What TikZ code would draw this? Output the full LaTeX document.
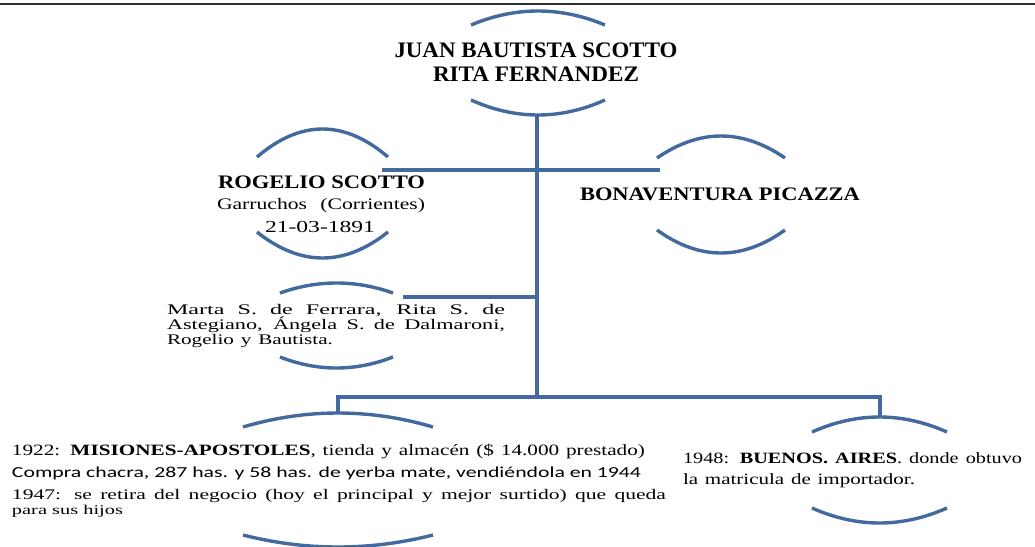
\documentclass[tikz,border=0pt]{standalone}
\usepackage{fontspec}
\setmainfont{Liberation Serif}
\newfontfamily\calibrifont{Carlito}
\usepackage{graphicx}
\definecolor{arcblue}{RGB}{66,106,158}
\definecolor{rulegray}{RGB}{45,45,45}
% #1 target width, #2 target cap height, #3 spread factor, #4 text
\newcommand\fitt[4]{%
  \setbox0\hbox{#4}\setbox2\hbox{H}%
  \setbox4\hbox{\makebox[#3\wd0][s]{#4}}%
  \pgfmathsetmacro\myscx{#1/\the\wd4}%
  \pgfmathsetmacro\myscy{#2/\the\ht2}%
  \scalebox{\myscx}[\myscy]{\copy4}}
% #1 x1, #2 x2, #3 y of ends, #4 y of apex
\newcommand\brokearc[4]{%
  \draw[arcline] (#1,#3) .. controls ({#1+(#2-#1)/3},{#3+4/3*(#4-#3)}) and ({#2-(#2-#1)/3},{#3+4/3*(#4-#3)}) .. (#2,#3);}
\begin{document}
\begin{tikzpicture}[x=1pt,y=-1pt,
  arcline/.style={draw=arcblue,line width=3.4pt},
  conn/.style={draw=arcblue,line width=3.2pt},
  lbl/.style={inner sep=0pt,outer sep=0pt,anchor=base},
  lblw/.style={inner sep=0pt,outer sep=0pt,anchor=base west}]
\useasboundingbox (0,0) rectangle (1035,546);
\draw[draw=rulegray,line width=1.8pt] (0,4) -- (1035,4);

% circle arcs
\brokearc{471}{605}{25}{11}
\brokearc{471}{605}{100}{115}
\brokearc{257}{388}{157}{129}
\brokearc{257}{388}{232}{258}
\brokearc{280}{393}{293}{283}
\brokearc{280}{393}{357}{368}
\brokearc{657}{785}{158}{136}
\brokearc{657}{785}{230}{253}
\brokearc{243}{433}{427}{413}
\brokearc{243}{433}{535}{547}
\brokearc{812}{947}{432}{417}
\brokearc{812}{947}{508}{523}

% texts
\node[lbl] (jb1) at (536,57) {\fitt{283}{14.5}{1}{\bfseries JUAN BAUTISTA SCOTTO}};
\node[lbl] (jb2) at (536,81) {\fitt{206}{14.5}{1}{\bfseries RITA FERNANDEZ}};

\node[lbl] (rog1) at (321.5,188) {\fitt{207}{12.5}{1}{\bfseries ROGELIO SCOTTO}};
\node[lbl] (rog2) at (321,209) {\fitt{208}{10.5}{1.04}{Garruchos (Corrientes)}};
\node[lbl] (rog3) at (320,232) {\fitt{110}{11}{1}{21-03-1891}};

\node[lbl] (bon) at (720,200) {\fitt{280}{12.5}{1}{\bfseries BONAVENTURA PICAZZA}};

\node[lblw] (kid1) at (167,314) {\fitt{338}{9.6}{1.15}{Marta S. de Ferrara, Rita S. de}};
\node[lblw] (kid2) at (167,329) {\fitt{338}{9.6}{1.05}{Astegiano, Ángela S. de Dalmaroni,}};
\node[lblw] (kid3) at (167,344) {\fitt{166}{9.6}{1.02}{Rogelio y Bautista.}};

\node[lblw] (mis1) at (12,455) {\fitt{633}{10.3}{1.02}{1922: \textbf{MISIONES-APOSTOLES}, tienda y almacén (\$ 14.000 prestado)}};
\node[lblw] (mis2) at (12,477) {\calibrifont\fitt{629}{9.8}{1}{Compra chacra, 287 has. y 58 has. de yerba mate, vendiéndola en 1944}};
\node[lblw] (mis3) at (12,499) {\fitt{654}{9.6}{1.06}{1947: se retira del negocio (hoy el principal y mejor surtido) que queda}};
\node[lblw] (mis4) at (12,514) {\fitt{111}{8.8}{1}{para sus hijos}};

\node[lblw] (ba1) at (683,463) {\fitt{339}{10.3}{1.03}{1948: \textbf{BUENOS. AIRES}. donde obtuvo}};
\node[lblw] (ba2) at (683,484) {\fitt{232}{10.3}{1.02}{la matricula de importador.}};

% connection points
\coordinate (jbB) at (537,115);
\coordinate (trunkEnd) at (537,397);
\coordinate (rogR) at (382,170);
\coordinate (bonL) at (660,170);
\coordinate (kidR) at (403,297);
\coordinate (kidJ) at (537,297);
\coordinate (misT) at (338,413);
\coordinate (baT) at (880,417);

% connectors
\draw[conn] (jbB) -- (trunkEnd);
\draw[conn] (rogR) -- (bonL);
\draw[conn] (kidR) -- (kidJ);
\draw[conn,line join=miter] (misT) -- (misT |- trunkEnd) -- (baT |- trunkEnd) -- (baT);
\end{tikzpicture}
\end{document}
